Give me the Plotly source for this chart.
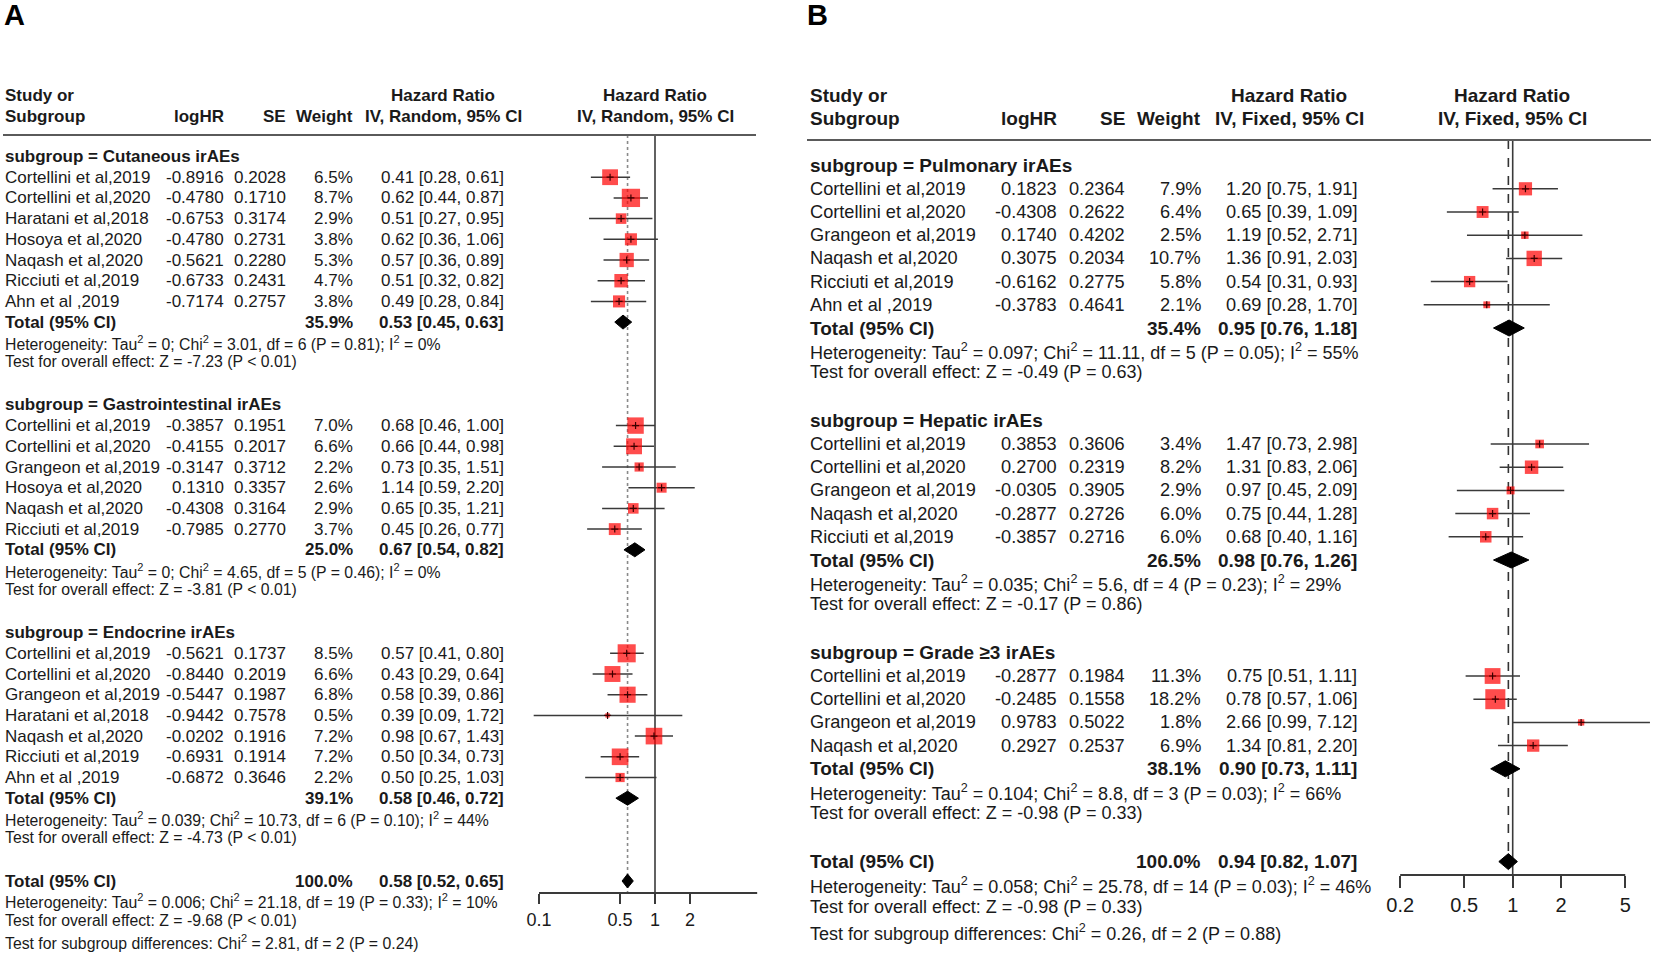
import math
import plotly.graph_objects as go

W, H = 1654, 956
FONT = "Liberation Sans, Arial, Helvetica, sans-serif"
TXT = "#1a1a1a"
RED = "#ff0000"

# ======================= Panel A data (Random effects) =======================
A_cut_name = "Cutaneous irAEs"
A_cut_study = ["Cortellini et al,2019", "Cortellini et al,2020", "Haratani et al,2018", "Hosoya et al,2020",
               "Naqash et al,2020", "Ricciuti et al,2019", "Ahn et al ,2019"]
A_cut_loghr = ["-0.8916", "-0.4780", "-0.6753", "-0.4780", "-0.5621", "-0.6733", "-0.7174"]
A_cut_se = ["0.2028", "0.1710", "0.3174", "0.2731", "0.2280", "0.2431", "0.2757"]
A_cut_w = [6.5, 8.7, 2.9, 3.8, 5.3, 4.7, 3.8]
A_cut_hr = [0.41, 0.62, 0.51, 0.62, 0.57, 0.51, 0.49]
A_cut_lo = [0.28, 0.44, 0.27, 0.36, 0.36, 0.32, 0.28]
A_cut_hi = [0.61, 0.87, 0.95, 1.06, 0.89, 0.82, 0.84]
A_cut_total = [35.9, 0.53, 0.45, 0.63]
A_cut_het = "Heterogeneity: Tau<sup>2</sup> = 0; Chi<sup>2</sup> = 3.01, df = 6 (P = 0.81); I<sup>2</sup> = 0%"
A_cut_test = "Test for overall effect: Z = -7.23 (P < 0.01)"

A_gi_name = "Gastrointestinal irAEs"
A_gi_study = ["Cortellini et al,2019", "Cortellini et al,2020", "Grangeon et al,2019", "Hosoya et al,2020",
              "Naqash et al,2020", "Ricciuti et al,2019"]
A_gi_loghr = ["-0.3857", "-0.4155", "-0.3147", "0.1310", "-0.4308", "-0.7985"]
A_gi_se = ["0.1951", "0.2017", "0.3712", "0.3357", "0.3164", "0.2770"]
A_gi_w = [7.0, 6.6, 2.2, 2.6, 2.9, 3.7]
A_gi_hr = [0.68, 0.66, 0.73, 1.14, 0.65, 0.45]
A_gi_lo = [0.46, 0.44, 0.35, 0.59, 0.35, 0.26]
A_gi_hi = [1.00, 0.98, 1.51, 2.20, 1.21, 0.77]
A_gi_total = [25.0, 0.67, 0.54, 0.82]
A_gi_het = "Heterogeneity: Tau<sup>2</sup> = 0; Chi<sup>2</sup> = 4.65, df = 5 (P = 0.46); I<sup>2</sup> = 0%"
A_gi_test = "Test for overall effect: Z = -3.81 (P < 0.01)"

A_endo_name = "Endocrine irAEs"
A_endo_study = ["Cortellini et al,2019", "Cortellini et al,2020", "Grangeon et al,2019", "Haratani et al,2018",
                "Naqash et al,2020", "Ricciuti et al,2019", "Ahn et al ,2019"]
A_endo_loghr = ["-0.5621", "-0.8440", "-0.5447", "-0.9442", "-0.0202", "-0.6931", "-0.6872"]
A_endo_se = ["0.1737", "0.2019", "0.1987", "0.7578", "0.1916", "0.1914", "0.3646"]
A_endo_w = [8.5, 6.6, 6.8, 0.5, 7.2, 7.2, 2.2]
A_endo_hr = [0.57, 0.43, 0.58, 0.39, 0.98, 0.50, 0.50]
A_endo_lo = [0.41, 0.29, 0.39, 0.09, 0.67, 0.34, 0.25]
A_endo_hi = [0.80, 0.64, 0.86, 1.72, 1.43, 0.73, 1.03]
A_endo_total = [39.1, 0.58, 0.46, 0.72]
A_endo_het = "Heterogeneity: Tau<sup>2</sup> = 0.039; Chi<sup>2</sup> = 10.73, df = 6 (P = 0.10); I<sup>2</sup> = 44%"
A_endo_test = "Test for overall effect: Z = -4.73 (P < 0.01)"

A_all_total = [100.0, 0.58, 0.52, 0.65]
A_all_het = "Heterogeneity: Tau<sup>2</sup> = 0.006; Chi<sup>2</sup> = 21.18, df = 19 (P = 0.33); I<sup>2</sup> = 10%"
A_all_test = "Test for overall effect: Z = -9.68 (P < 0.01)"
A_all_diff = "Test for subgroup differences: Chi<sup>2</sup> = 2.81, df = 2 (P = 0.24)"
A_ticks = [0.1, 0.5, 1, 2]
A_axis_lim = [0.1, 7.6]

# ======================= Panel B data (Fixed effects) =======================
B_pul_name = "Pulmonary irAEs"
B_pul_study = ["Cortellini et al,2019", "Cortellini et al,2020", "Grangeon et al,2019", "Naqash et al,2020",
               "Ricciuti et al,2019", "Ahn et al ,2019"]
B_pul_loghr = ["0.1823", "-0.4308", "0.1740", "0.3075", "-0.6162", "-0.3783"]
B_pul_se = ["0.2364", "0.2622", "0.4202", "0.2034", "0.2775", "0.4641"]
B_pul_w = [7.9, 6.4, 2.5, 10.7, 5.8, 2.1]
B_pul_hr = [1.20, 0.65, 1.19, 1.36, 0.54, 0.69]
B_pul_lo = [0.75, 0.39, 0.52, 0.91, 0.31, 0.28]
B_pul_hi = [1.91, 1.09, 2.71, 2.03, 0.93, 1.70]
B_pul_total = [35.4, 0.95, 0.76, 1.18]
B_pul_het = "Heterogeneity: Tau<sup>2</sup> = 0.097; Chi<sup>2</sup> = 11.11, df = 5 (P = 0.05); I<sup>2</sup> = 55%"
B_pul_test = "Test for overall effect: Z = -0.49 (P = 0.63)"

B_hep_name = "Hepatic irAEs"
B_hep_study = ["Cortellini et al,2019", "Cortellini et al,2020", "Grangeon et al,2019", "Naqash et al,2020",
               "Ricciuti et al,2019"]
B_hep_loghr = ["0.3853", "0.2700", "-0.0305", "-0.2877", "-0.3857"]
B_hep_se = ["0.3606", "0.2319", "0.3905", "0.2726", "0.2716"]
B_hep_w = [3.4, 8.2, 2.9, 6.0, 6.0]
B_hep_hr = [1.47, 1.31, 0.97, 0.75, 0.68]
B_hep_lo = [0.73, 0.83, 0.45, 0.44, 0.40]
B_hep_hi = [2.98, 2.06, 2.09, 1.28, 1.16]
B_hep_total = [26.5, 0.98, 0.76, 1.26]
B_hep_het = "Heterogeneity: Tau<sup>2</sup> = 0.035; Chi<sup>2</sup> = 5.6, df = 4 (P = 0.23); I<sup>2</sup> = 29%"
B_hep_test = "Test for overall effect: Z = -0.17 (P = 0.86)"

B_g3_name = "Grade \u22653 irAEs"
B_g3_study = ["Cortellini et al,2019", "Cortellini et al,2020", "Grangeon et al,2019", "Naqash et al,2020"]
B_g3_loghr = ["-0.2877", "-0.2485", "0.9783", "0.2927"]
B_g3_se = ["0.1984", "0.1558", "0.5022", "0.2537"]
B_g3_w = [11.3, 18.2, 1.8, 6.9]
B_g3_hr = [0.75, 0.78, 2.66, 1.34]
B_g3_lo = [0.51, 0.57, 0.99, 0.81]
B_g3_hi = [1.11, 1.06, 7.12, 2.20]
B_g3_total = [38.1, 0.90, 0.73, 1.11]
B_g3_het = "Heterogeneity: Tau<sup>2</sup> = 0.104; Chi<sup>2</sup> = 8.8, df = 3 (P = 0.03); I<sup>2</sup> = 66%"
B_g3_test = "Test for overall effect: Z = -0.98 (P = 0.33)"

B_all_total = [100.0, 0.94, 0.82, 1.07]
B_all_het = "Heterogeneity: Tau<sup>2</sup> = 0.058; Chi<sup>2</sup> = 25.78, df = 14 (P = 0.03); I<sup>2</sup> = 46%"
B_all_test = "Test for overall effect: Z = -0.98 (P = 0.33)"
B_all_diff = "Test for subgroup differences: Chi<sup>2</sup> = 0.26, df = 2 (P = 0.88)"
B_ticks = [0.2, 0.5, 1, 2, 5]
B_axis_lim = [0.2, 5]


def grp(name, study, loghr, se, w, hr, lo, hi, total, het, test):
    return dict(name=name, study=study, loghr=loghr, se=se, w=w, hr=hr, lo=lo, hi=hi,
                total=total, het=het, test=test)


A_groups = [
    grp(A_cut_name, A_cut_study, A_cut_loghr, A_cut_se, A_cut_w, A_cut_hr, A_cut_lo, A_cut_hi, A_cut_total, A_cut_het, A_cut_test),
    grp(A_gi_name, A_gi_study, A_gi_loghr, A_gi_se, A_gi_w, A_gi_hr, A_gi_lo, A_gi_hi, A_gi_total, A_gi_het, A_gi_test),
    grp(A_endo_name, A_endo_study, A_endo_loghr, A_endo_se, A_endo_w, A_endo_hr, A_endo_lo, A_endo_hi, A_endo_total, A_endo_het, A_endo_test),
]
B_groups = [
    grp(B_pul_name, B_pul_study, B_pul_loghr, B_pul_se, B_pul_w, B_pul_hr, B_pul_lo, B_pul_hi, B_pul_total, B_pul_het, B_pul_test),
    grp(B_hep_name, B_hep_study, B_hep_loghr, B_hep_se, B_hep_w, B_hep_hr, B_hep_lo, B_hep_hi, B_hep_total, B_hep_het, B_hep_test),
    grp(B_g3_name, B_g3_study, B_g3_loghr, B_g3_se, B_g3_w, B_g3_hr, B_g3_lo, B_g3_hi, B_g3_total, B_g3_het, B_g3_test),
]

# ======================= layout (pixels) =======================
cfg_A = dict(letter="A", letter_x=2, model="IV, Random, 95% CI",
             study_x=3, loghr_x=226, se_x=288, w_x=355, ci_x=506, hdr_ci_x=443, hdr_plot_x=655,
             hdr_y1=95, hdr_y2=116, rule_y=135, rule_x=(3, 756),
             y0=156.5, pitch=20.7, foot=(20, 39, 61),
             row_fs=17, bold_fs=17, small_fs=15.8, tick_fs=18,
             x_one=655, ppd=116, dom=(495, 775), axis_y=893, ticklen=10,
             sq_k=6.2, dia_h=7, ref_dash="dot", ref_col="#8a8a8a",
             xaxis="x2", ticks=A_ticks, lim=A_axis_lim)
cfg_B = dict(letter="B", letter_x=805, model="IV, Fixed, 95% CI",
             study_x=808, loghr_x=1059, se_x=1127, w_x=1203, ci_x=1359, hdr_ci_x=1289, hdr_plot_x=1512,
             hdr_y1=95, hdr_y2=118, rule_y=140, rule_x=(807, 1651),
             y0=165.6, pitch=23.2, foot=(24, 45, 71),
             row_fs=18.2, bold_fs=19, small_fs=18, tick_fs=20,
             x_one=1512.7, ppd=161, dom=(1290, 1654), axis_y=875, ticklen=12,
             sq_k=4.7, dia_h=8, ref_dash="dash", ref_col="#333333",
             xaxis="x3", ticks=B_ticks, lim=B_axis_lim)

annotations = []
shapes = []
traces = []


def txt(x, y, s, size, bold=False, anchor="left"):
    annotations.append(dict(x=x, y=y, xref="x", yref="y", text=("<b>%s</b>" % s) if bold else s,
                            showarrow=False, xanchor=anchor, yanchor="middle",
                            font=dict(size=size, color=TXT, family=FONT)))


def fmt_ci(hr, lo, hi):
    return "%.2f [%.2f, %.2f]" % (hr, lo, hi)


def build(groups, overall, het, test, diff, c):
    row = lambda k: c["y0"] + k * c["pitch"]
    annotations.append(dict(x=c["letter_x"], y=15, xref="x", yref="y", text="<b>%s</b>" % c["letter"],
                            showarrow=False, xanchor="left", yanchor="middle",
                            font=dict(size=29, color="#000", family=FONT)))
    txt(c["study_x"], c["hdr_y1"], "Study or", c["bold_fs"], True)
    txt(c["study_x"], c["hdr_y2"], "Subgroup", c["bold_fs"], True)
    txt(c["loghr_x"], c["hdr_y2"], "logHR", c["bold_fs"], True, "right")
    txt(c["se_x"], c["hdr_y2"], "SE", c["bold_fs"], True, "right")
    txt(c["w_x"], c["hdr_y2"], "Weight", c["bold_fs"], True, "right")
    txt(c["hdr_ci_x"], c["hdr_y1"], "Hazard Ratio", c["bold_fs"], True, "center")
    txt(c["hdr_ci_x"], c["hdr_y2"], c["model"], c["bold_fs"], True, "center")
    txt(c["hdr_plot_x"], c["hdr_y1"], "Hazard Ratio", c["bold_fs"], True, "center")
    txt(c["hdr_plot_x"], c["hdr_y2"], c["model"], c["bold_fs"], True, "center")
    shapes.append(dict(type="line", xref="x", yref="y", x0=c["rule_x"][0], x1=c["rule_x"][1],
                       y0=c["rule_y"], y1=c["rule_y"], line=dict(color="#5a5a5a", width=2)))

    ci_x, ci_y, sq_x, sq_y, sq_s, dx, dy = [], [], [], [], [], [], []

    def diamond(tot, y):
        dx.extend([tot[2], tot[1], tot[3], tot[1], tot[2], None])
        dy.extend([y, y - c["dia_h"], y, y + c["dia_h"], y, None])

    k = 0
    for g in groups:
        txt(c["study_x"], row(k), "subgroup = " + g["name"], c["bold_fs"], True)
        k += 1
        for i in range(len(g["study"])):
            y = row(k)
            txt(c["study_x"], y, g["study"][i], c["row_fs"])
            txt(c["loghr_x"], y, g["loghr"][i], c["row_fs"], anchor="right")
            txt(c["se_x"], y, g["se"][i], c["row_fs"], anchor="right")
            txt(c["w_x"], y, "%.1f%%" % g["w"][i], c["row_fs"], anchor="right")
            txt(c["ci_x"], y, fmt_ci(g["hr"][i], g["lo"][i], g["hi"][i]), c["row_fs"], anchor="right")
            ci_x.extend([g["lo"][i], g["hi"][i], None])
            ci_y.extend([y, y, None])
            sq_x.append(g["hr"][i]); sq_y.append(y); sq_s.append(c["sq_k"] * math.sqrt(g["w"][i]))
            k += 1
        y = row(k)
        t = g["total"]
        txt(c["study_x"], y, "Total (95% CI)", c["bold_fs"], True)
        txt(c["w_x"], y, "%.1f%%" % t[0], c["bold_fs"], True, "right")
        txt(c["ci_x"], y, fmt_ci(t[1], t[2], t[3]), c["bold_fs"], True, "right")
        diamond(t, y)
        k += 1
        txt(c["study_x"], row(k), g["het"], c["small_fs"])
        k += 1
        txt(c["study_x"], row(k) - 2, g["test"], c["small_fs"])
        k += 2
    y = row(k)
    txt(c["study_x"], y, "Total (95% CI)", c["bold_fs"], True)
    txt(c["w_x"], y, "%.1f%%" % overall[0], c["bold_fs"], True, "right")
    txt(c["ci_x"], y, fmt_ci(overall[1], overall[2], overall[3]), c["bold_fs"], True, "right")
    diamond(overall, y)
    txt(c["study_x"], y + c["foot"][0], het, c["small_fs"])
    txt(c["study_x"], y + c["foot"][1], test, c["small_fs"])
    txt(c["study_x"], y + c["foot"][2], diff, c["small_fs"])

    xa = c["xaxis"]
    top, bot = c["rule_y"], c["axis_y"]
    traces.append(go.Scatter(x=[overall[1], overall[1]], y=[top, bot], mode="lines", xaxis=xa, yaxis="y",
                             line=dict(color=c["ref_col"], width=1.6, dash=c["ref_dash"]), hoverinfo="skip"))
    traces.append(go.Scatter(x=[1, 1], y=[top, bot], mode="lines", xaxis=xa, yaxis="y",
                             line=dict(color="#3a3a3a", width=1.6), hoverinfo="skip"))
    traces.append(go.Scatter(x=c["lim"], y=[bot, bot], mode="lines", xaxis=xa, yaxis="y",
                             line=dict(color="#3a3a3a", width=2), hoverinfo="skip"))
    traces.append(go.Scatter(x=ci_x, y=ci_y, mode="lines", xaxis=xa, yaxis="y",
                             line=dict(color="#3a3a3a", width=1.5), hoverinfo="skip"))
    traces.append(go.Scatter(x=sq_x, y=sq_y, mode="markers", xaxis=xa, yaxis="y",
                             marker=dict(symbol="square", size=sq_s, color=RED, line=dict(width=0)),
                             hoverinfo="skip"))
    traces.append(go.Scatter(x=sq_x, y=sq_y, mode="markers", xaxis=xa, yaxis="y",
                             marker=dict(symbol="cross-thin", size=5, color="#3a0000",
                                         line=dict(width=1.2, color="#3a0000")), hoverinfo="skip"))
    traces.append(go.Scatter(x=dx, y=dy, mode="lines", fill="toself", fillcolor="#000000", xaxis=xa, yaxis="y",
                             line=dict(color="#000000", width=1), hoverinfo="skip"))


build(A_groups, A_all_total, A_all_het, A_all_test, A_all_diff, cfg_A)
build(B_groups, B_all_total, B_all_het, B_all_test, B_all_diff, cfg_B)

fig = go.Figure(traces)


def forest_axis(c):
    d0, d1 = c["dom"]
    return dict(type="log", domain=[d0 / W, d1 / W],
                range=[(d0 - c["x_one"]) / c["ppd"], (d1 - c["x_one"]) / c["ppd"]],
                anchor="free", position=1 - c["axis_y"] / H,
                tickvals=c["ticks"], ticktext=[("%g" % v) for v in c["ticks"]],
                ticks="outside", ticklen=c["ticklen"], tickwidth=2, tickcolor="#3a3a3a",
                showline=False, showgrid=False, zeroline=False,
                tickfont=dict(size=c["tick_fs"], color=TXT, family=FONT), fixedrange=True)


fig.update_layout(
    width=W, height=H, margin=dict(l=0, r=0, t=0, b=0),
    paper_bgcolor="white", plot_bgcolor="rgba(0,0,0,0)", showlegend=False,
    xaxis=dict(range=[0, W], domain=[0, 1], visible=False, fixedrange=True),
    yaxis=dict(range=[H, 0], domain=[0, 1], visible=False, fixedrange=True),
    xaxis2=forest_axis(cfg_A),
    xaxis3=forest_axis(cfg_B),
    annotations=annotations, shapes=shapes,
)

fig.write_html("out.html", config={"displayModeBar": False},
               post_script="document.body.style.margin='0px';document.body.style.overflow='hidden';")
